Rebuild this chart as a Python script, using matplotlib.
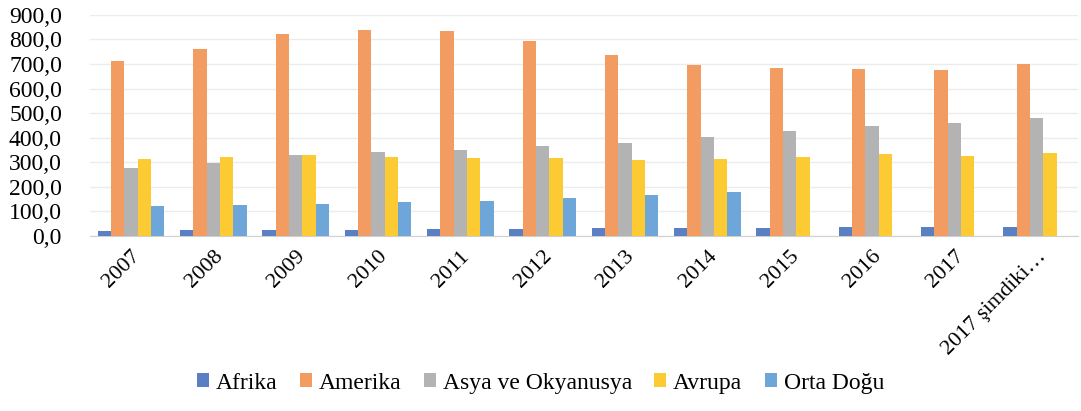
import numpy as np
import matplotlib
matplotlib.use("Agg")
import matplotlib.pyplot as plt

categories = ["2007", "2008", "2009", "2010", "2011", "2012", "2013", "2014",
              "2015", "2016", "2017", "2017 şimdiki…"]
afrika = [22, 23, 24, 26, 28, 29, 31, 32, 33, 35, 35, 37]
amerika = [710, 761, 822, 840, 836, 794, 737, 696, 683, 679, 676, 700]
asya = [277, 297, 330, 342, 350, 364, 380, 404, 428, 448, 461, 480]
avrupa = [313, 321, 330, 322, 317, 317, 309, 315, 323, 334, 326, 339]
orta_dogu = [123, 126, 130, 140, 143, 156, 166, 180, None, None, None, None]

series_names = ["Afrika", "Amerika", "Asya ve Okyanusya", "Avrupa", "Orta Doğu"]
series = [afrika, amerika, asya, avrupa, orta_dogu]
colors = ["#5a7fc2", "#f29c62", "#b3b3b3", "#fccb33", "#6fa6da"]

plt.rcParams["font.family"] = ["Liberation Serif", "DejaVu Serif"]

fig = plt.figure(figsize=(10.81, 4.11), dpi=100)
ax = fig.add_axes([0.083, 0.426, 0.914, 0.538])

x = np.arange(len(categories))
n = len(series)
w = 0.162
for i, (name, vals, c) in enumerate(zip(series_names, series, colors)):
    v = np.array([np.nan if a is None else a for a in vals], dtype=float)
    ax.bar(x + (i - (n - 1) / 2) * w, v, width=w, color=c, label=name, zorder=3)

ax.set_xlim(-0.5, len(categories) - 0.5)
ax.set_ylim(0, 900)
ax.set_yticks(np.arange(0, 901, 100))
ax.set_yticklabels([f"{v:.1f}".replace(".", ",") for v in np.arange(0, 901, 100)],
                   fontsize=17)
ax.yaxis.grid(True, color="#ececec", linewidth=1, zorder=0)
ax.set_axisbelow(True)
for s in ["top", "right", "left"]:
    ax.spines[s].set_visible(False)
ax.spines["bottom"].set_color("#d0d0d0")
ax.tick_params(axis="y", length=0, pad=20)
ax.tick_params(axis="x", length=0, pad=8)
ax.set_xticks(x)
ax.set_xticklabels(categories, rotation=45, ha="right", rotation_mode="anchor",
                   fontsize=16)

fig.legend(loc="center", bbox_to_anchor=(0.5, 0.068), ncol=5, frameon=False,
           fontsize=17, handlelength=0.5, handleheight=0.5, handletextpad=0.3,
           columnspacing=0.95)

fig.savefig("out.png", dpi=100)
